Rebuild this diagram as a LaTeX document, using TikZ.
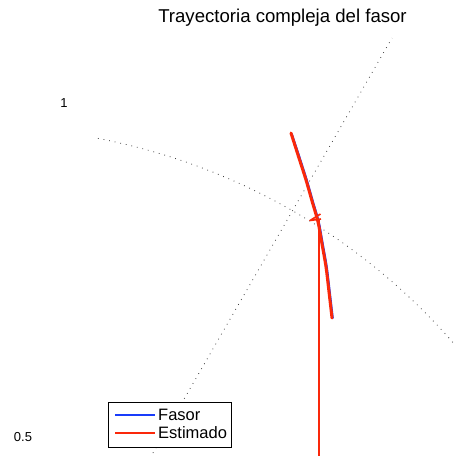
\documentclass[tikz,border=0pt]{standalone}
\usepackage{fontspec}
\setmainfont{Liberation Sans}
\definecolor{mred}{RGB}{250,40,10}
\definecolor{mblue}{RGB}{25,60,250}
\begin{document}
\begin{tikzpicture}[x=1pt,y=-1pt,
  grid/.style={draw=black!75, line width=0.8pt, dash pattern=on 0.8pt off 4.9pt},
  ticklab/.style={font=\fontsize{13}{15}\selectfont, inner sep=0pt},
  legtext/.style={font=\fontsize{16.5}{18}\selectfont, anchor=west, inner sep=0pt},
  trace/.style={line width=3pt, line join=round, line cap=round}]
\useasboundingbox (0,0) rectangle (456,456);
% polar grid (partial)
\coordinate (c) at (-21,756);
\coordinate (r1) at (153,453);
\coordinate (r2) at (392,38);
\draw[grid] (r1) -- (r2);
\draw[grid] plot[domain=79.1:40.9, samples=120] ({-21+629*cos(\x)},{756-629*sin(\x)});
% tick labels
\node[ticklab] (t1) at (64,103) {1};
\node[ticklab] (t05) at (23,437) {0.5};
% title
\node[font=\fontsize{18.6}{21}\selectfont, inner sep=0pt] (title) at (282.5,18) {Trayectoria compleja del fasor};
% phasor trajectory (blue, underneath)
\draw[mblue, line width=2pt, line cap=round] plot[smooth] coordinates {(291.8,134) (298.8,155) (306.8,180) (312.8,201) (318.8,222) (322.8,244) (326.8,267) (329.8,292) (332.8,318)};
% estimated trajectory (red)
\draw[mred, line width=1.6pt] (319,219) -- (319,456);
\draw[mred, line width=1.6pt, line join=round] (320.5,214) -- (310,220.5) -- (321,219);
\draw[mred, trace] plot[smooth] coordinates {(291,133) (298,155) (306,180) (312,201) (318,222) (322,244) (326,267) (329,292) (332,318)};
% legend
\node[draw=black, line width=0.8pt, fill=white, minimum width=123pt, minimum height=45pt, inner sep=0pt, anchor=north west] (leg) at (108,402) {};
\coordinate (b1) at (115,415);
\coordinate (b2) at (155,415);
\coordinate (e1) at (115,433);
\coordinate (e2) at (155,433);
\draw[mblue, line width=1.8pt] (b1) -- (b2);
\draw[mred, line width=1.8pt] (e1) -- (e2);
\node[legtext] (lf) at (158,415) {Fasor};
\node[legtext] (le) at (158,433) {Estimado};
\end{tikzpicture}
\end{document}
